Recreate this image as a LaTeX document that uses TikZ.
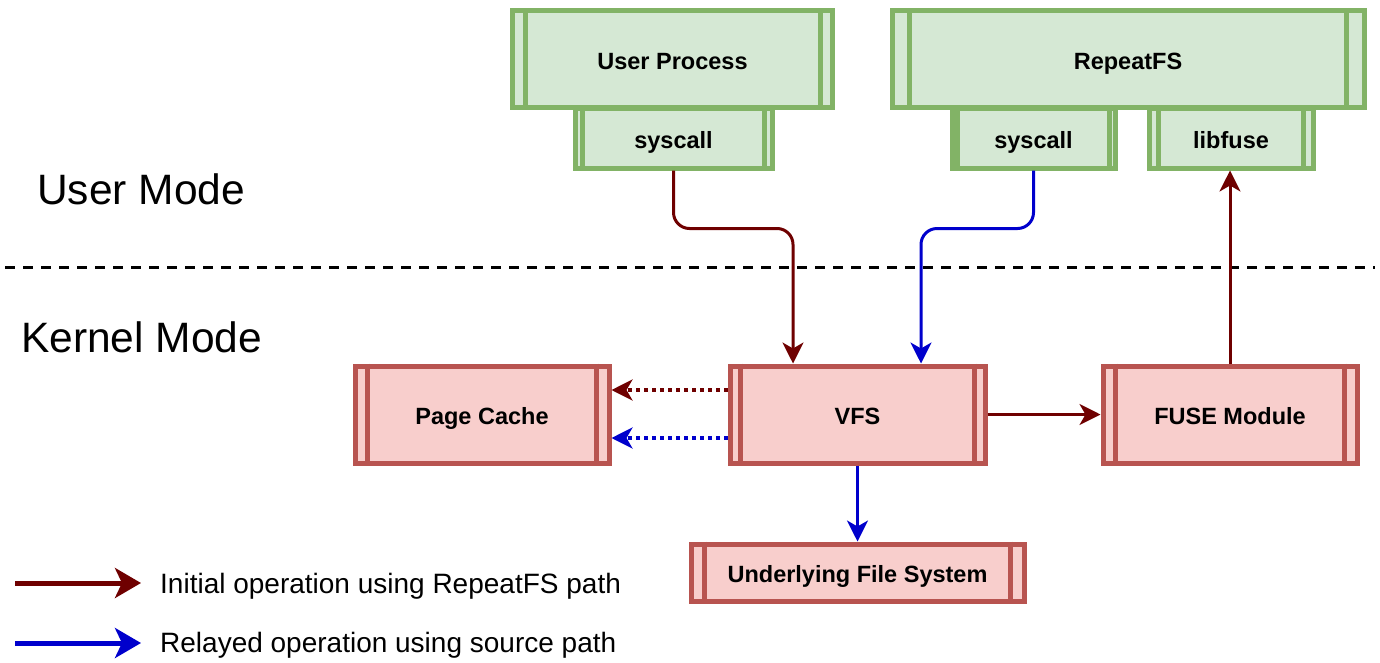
\documentclass[tikz,border=0pt]{standalone}
\usepackage{fontspec}
\setmainfont{Liberation Sans}
\usetikzlibrary{arrows.meta}
\definecolor{gfill}{HTML}{D5E8D4}
\definecolor{gline}{HTML}{82B366}
\definecolor{rfill}{HTML}{F8CECC}
\definecolor{rline}{HTML}{B85450}
\definecolor{darr}{HTML}{6F0000}
\definecolor{barr}{HTML}{0000CC}
\tikzset{
  procbox/.style={draw, line width=5pt, inner sep=0pt, text height=20.5pt, text depth=0pt, font=\fontsize{23.5}{28}\selectfont\bfseries},
  gbox/.style={procbox, fill=gfill, draw=gline},
  rbox/.style={procbox, fill=rfill, draw=rline},
  tip/.style={-{Stealth[length=21pt, width=21pt, inset=6pt]}},
  conn/.style={tip, line width=3pt},
  redconn/.style={conn, draw=darr},
  blueconn/.style={conn, draw=barr},
  dotconn/.style={line width=3.5pt, dash pattern=on 4pt off 4pt},
  modelabel/.style={anchor=west, inner sep=0pt, font=\fontsize{42.5}{50}\selectfont},
  legendlabel/.style={anchor=west, inner sep=0pt, font=\fontsize{28}{33}\selectfont},
  legendarrow/.style={line width=5pt, -{Stealth[length=26pt, width=30pt, inset=7pt]}}
}
\newcommand{\innerlines}[3]{% node, offset, color
  \draw[line width=5pt, #3] ([xshift=#2]#1.north west) -- ([xshift=#2]#1.south west);
  \draw[line width=5pt, #3] ([xshift=-#2]#1.north east) -- ([xshift=-#2]#1.south east);
}
\begin{document}
\begin{tikzpicture}[x=1pt, y=-1pt]
\useasboundingbox (0,0) rectangle (1380,662);

% user mode boxes
\node[gbox, minimum width=320pt, minimum height=97pt] (up) at (672.5,59) {User Process};
\node[gbox, minimum width=197pt, minimum height=60pt] (sc1) at (673.5,138) {syscall};
\node[gbox, minimum width=472pt, minimum height=97pt] (rfs) at (1128,59) {RepeatFS};
\node[gbox, minimum width=163pt, minimum height=60pt] (sc2) at (1033.5,138) {syscall};
\node[gbox, minimum width=164pt, minimum height=60pt] (lf) at (1231,138) {libfuse};
\innerlines{up}{15pt}{gline}
\innerlines{sc1}{10pt}{gline}
\innerlines{rfs}{20pt}{gline}
\innerlines{sc2}{8pt}{gline}
\innerlines{lf}{12pt}{gline}

% kernel boxes
\node[rbox, minimum width=254pt, minimum height=97pt] (pc) at (482,414.5) {Page Cache};
\node[rbox, minimum width=255pt, minimum height=97pt] (vfs) at (857.5,414.5) {VFS};
\node[rbox, minimum width=254pt, minimum height=97pt] (fm) at (1230,414.5) {FUSE Module};
\node[rbox, minimum width=333pt, minimum height=57pt] (ufs) at (857.5,572.5) {Underlying File System};
\innerlines{pc}{15pt}{rline}
\innerlines{vfs}{13pt}{rline}
\innerlines{fm}{15pt}{rline}
\innerlines{ufs}{16pt}{rline}

% mode separator and labels
\coordinate (sepL) at (5,267);
\coordinate (sepR) at (1375,267);
\draw[line width=3pt, dash pattern=on 10pt off 8pt] (sepL) -- (sepR);
\node[modelabel] (um) at (37,189) {User Mode};
\node[modelabel] (km) at (21,337) {Kernel Mode};

% connectors
\draw[redconn, rounded corners=16pt] (sc1.south) -- ++(0,58) -| ([xshift=-64.5pt]vfs.north);
\draw[blueconn, rounded corners=16pt] (sc2.south) -- ++(0,58) -| ([xshift=63.5pt]vfs.north);
\draw[redconn] (fm.north) -- (fm.north |- lf.south);
\draw[redconn] (vfs.east) -- (fm.west);
\draw[blueconn] (vfs.south) -- (ufs.north);
\draw[redconn, dotconn] ([yshift=24.5pt]vfs.west) -- ([yshift=24.5pt]vfs.west -| pc.east);
\draw[blueconn, dotconn] ([yshift=-23.5pt]vfs.west) -- ([yshift=-23.5pt]vfs.west -| pc.east);

% legend
\coordinate (l1a) at (15,583);
\coordinate (l1b) at (141,583);
\coordinate (l2a) at (15,643);
\coordinate (l2b) at (141,643);
\draw[legendarrow, draw=darr, fill=darr] (l1a) -- (l1b);
\draw[legendarrow, draw=barr, fill=barr] (l2a) -- (l2b);
\node[legendlabel] (lt1) at (160,586) {Initial operation using RepeatFS path};
\node[legendlabel] (lt2) at (160,645) {Relayed operation using source path};
\end{tikzpicture}
\end{document}
